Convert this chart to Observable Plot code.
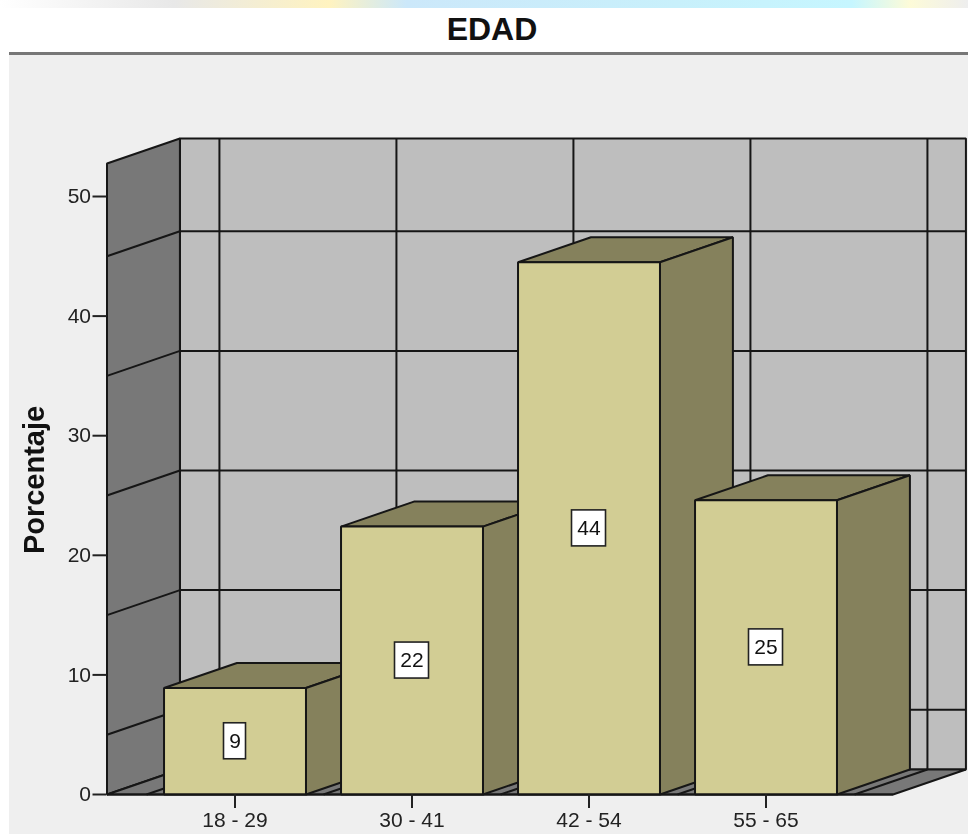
<!DOCTYPE html>
<html lang="es">
<head>
<meta charset="utf-8">
<title>EDAD</title>
<script src="https://cdn.jsdelivr.net/npm/d3@7"></script>
<script src="https://cdn.jsdelivr.net/npm/@observablehq/plot@0.6"></script>
<style>
  html, body { margin: 0; padding: 0; background: #fff; width: 968px; height: 834px; overflow: hidden; }
  #strip { position: absolute; left: 0; top: 0; width: 968px; height: 8px;
    background: linear-gradient(90deg, #fff 0%, #e8e8e8 18%, #fff3c0 34%, #cce8fa 42%, #c8f0fb 70%, #c6f6ff 88%, #fdfbd8 94%, #eee 100%); }
  #title { position: absolute; left: 16px; top: 7px; width: 952px; height: 44px;
    text-align: center; font: bold 32px/45px "Liberation Sans", Arial, sans-serif; color: #111; }
  #rule { position: absolute; left: 9px; top: 52px; width: 959px; height: 3px; background: #777; }
  #chart { position: absolute; left: 9px; top: 55px; width: 959px; height: 779px; background: #efefef; }
  #chart svg { display: block; overflow: visible; filter: blur(0.4px); }
</style>
</head>
<body>
<div id="strip"></div>
<div id="title">EDAD</div>
<div id="rule"></div>
<div id="chart"></div>
<script>
const categories = ["18 - 29", "30 - 41", "42 - 54", "55 - 65"];
const percentages = [8.9, 22.4, 44.5, 24.6];
const valueLabels = ["9", "22", "44", "25"];
const yTicks = [0, 10, 20, 30, 40, 50];
const gridValues = [5, 15, 25, 35, 45];
const gridCategoryEdges = [-0.5, 0.5, 1.5, 2.5, 3.5];

// Chart box in data units: categories along x, percent along y
const xLeft = -0.7232, xRight = 3.7175, wallTop = 52.76;
const depthX = 0.412, depthY = 2.09, halfBar = 0.401;

const cFront = "#d2cd94", cSide = "#85815c", cWall = "#787878", cBack = "#bebebe", cLine = "#161616";

const poly = (id, fill, pts) => pts.map(([x, y]) => ({id, fill, x, y}));

const shell = [
  ...poly("back", cBack, [[xLeft + depthX, depthY], [xRight + depthX, depthY], [xRight + depthX, wallTop + depthY], [xLeft + depthX, wallTop + depthY]]),
  ...poly("left", cWall, [[xLeft, 0], [xLeft + depthX, depthY], [xLeft + depthX, wallTop + depthY], [xLeft, wallTop]]),
  ...poly("floor", cWall, [[xLeft, 0], [xRight, 0], [xRight + depthX, depthY], [xLeft + depthX, depthY]])
];

const bars = percentages.flatMap((v, i) => {
  const l = i - halfBar, r = i + halfBar;
  return [
    ...poly(`top${i}`, cSide, [[l, v], [r, v], [r + depthX, v + depthY], [l + depthX, v + depthY]]),
    ...poly(`side${i}`, cSide, [[r, 0], [r + depthX, depthY], [r + depthX, v + depthY], [r, v]]),
    ...poly(`front${i}`, cFront, [[l, 0], [r, 0], [r, v], [l, v]])
  ];
});

const polygons = (data) => Plot.line(data, {
  x: "x", y: "y", z: "id", fill: "fill", stroke: cLine, strokeWidth: 2,
  curve: "linear-closed", strokeLinejoin: "miter"
});

// Marks per bar are drawn in turn so each bar covers the one on its left
const barMarks = percentages.map((_, i) =>
  polygons(bars.filter(d => d.id.endsWith(String(i)))));

const gridLinks = [
  ...gridValues.map(v => ({x1: xLeft, y1: v, x2: xLeft + depthX, y2: v + depthY})),
  ...gridValues.map(v => ({x1: xLeft + depthX, y1: v + depthY, x2: xRight + depthX, y2: v + depthY})),
  ...gridCategoryEdges.map(e => ({x1: e, y1: 0, x2: e + depthX, y2: depthY})),
  ...gridCategoryEdges.map(e => ({x1: e + depthX, y1: depthY, x2: e + depthX, y2: wallTop + depthY}))
];

const labelled = percentages.map((v, i) => ({i, mid: v / 2, label: valueLabels[i]}));
const box = (data, halfW) => Plot.rect(data, {
  x1: "i", x2: "i", y1: "mid", y2: "mid",
  insetLeft: -halfW, insetRight: -halfW, insetTop: -18, insetBottom: -18,
  fill: "#fff", stroke: "#222", strokeWidth: 1.6
});

const chart = Plot.plot({
  width: 959, height: 779,
  marginLeft: 97.5, marginRight: 0.5, marginTop: 0, marginBottom: 40,
  style: {background: "transparent", color: "#222", fontFamily: '"Liberation Sans", Arial, sans-serif', overflow: "visible"},
  x: {domain: [xLeft, 4.1412]},
  y: {domain: [0, 61.79]},
  marks: [
    polygons(shell),
    Plot.link(gridLinks, {x1: "x1", y1: "y1", x2: "x2", y2: "y2", stroke: cLine, strokeWidth: 2}),
    ...barMarks,
    box(labelled.filter(d => d.label.length === 1), 11),
    box(labelled.filter(d => d.label.length === 2), 17),
    Plot.text(labelled, {x: "i", y: "mid", text: "label", fontSize: 21, fill: "#111"}),
    Plot.link([{x1: xLeft, x2: xRight}], {x1: "x1", x2: "x2", y1: () => 0, y2: () => 0, stroke: cLine, strokeWidth: 2}),
    Plot.axisY({ticks: yTicks, tickSize: 14, tickPadding: 2, fontSize: 21, label: null, strokeWidth: 2, tickFormat: d => d}),
    Plot.axisX({ticks: [0, 1, 2, 3], tickSize: 14, tickPadding: 4, fontSize: 21, label: null, strokeWidth: 2, tickFormat: i => categories[i]}),
    Plot.text(["Porcentaje"], {x: () => -1.13, y: () => 26.3, rotate: -90, fontSize: 29, fontWeight: "bold", fill: "#111"})
  ]
});
document.getElementById("chart").appendChild(chart);
</script>
</body>
</html>
